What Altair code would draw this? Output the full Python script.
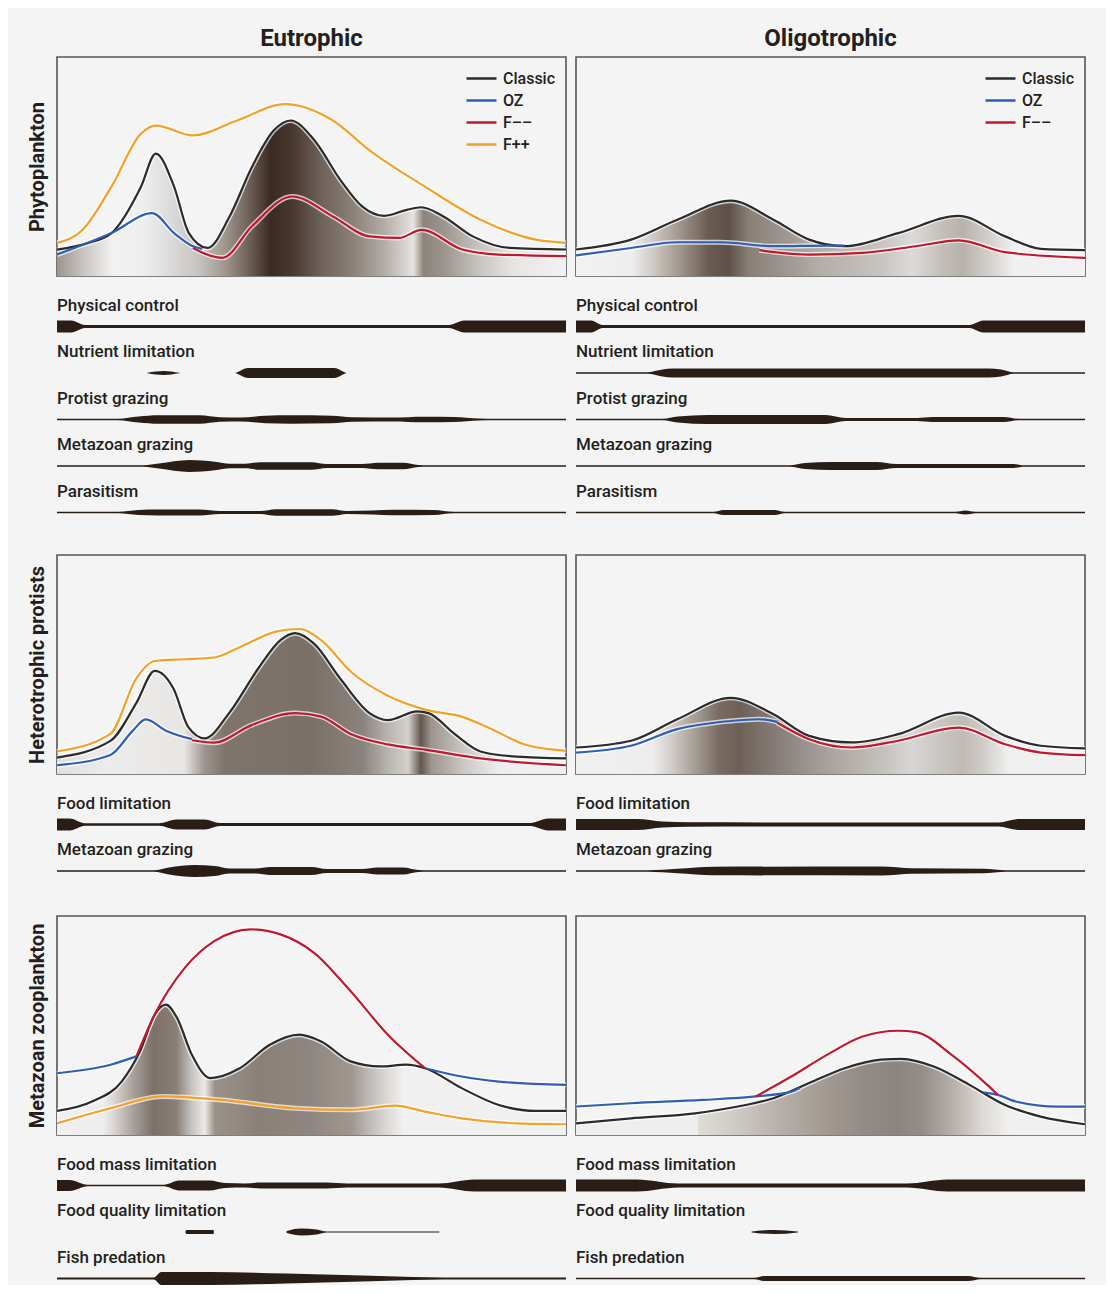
import altair as alt
import pandas as pd

FONT = "Roboto"
TEXT = "#231f20"
BAND_COLOR = "#2a1d15"
FRAME = "#555555"

COLUMNS = ["Eutrophic", "Oligotrophic"]
ROWS = ["Phytoplankton", "Heterotrophic protists", "Metazoan zooplankton"]
SERIES = ["Classic", "OZ", "F––", "F++"]
SERIES_COLORS = ["#2b2b2b", "#2f5fb3", "#c0192d", "#f3a12a"]

# ---------------- Phytoplankton ----------------
PHY_EU_CLASSIC = [(0.00, 0.12), (0.06, 0.15), (0.107, 0.196), (0.165, 0.408), (0.194, 0.559), (0.230, 0.408),
                  (0.259, 0.196), (0.296, 0.128), (0.339, 0.272), (0.383, 0.498), (0.426, 0.665), (0.459, 0.710),
                  (0.506, 0.619), (0.557, 0.438), (0.600, 0.317), (0.643, 0.275), (0.687, 0.302), (0.716, 0.314),
                  (0.759, 0.272), (0.817, 0.181), (0.890, 0.128), (1.00, 0.121)]
PHY_EU_OZ = [(0.00, 0.098), (0.107, 0.196), (0.187, 0.287), (0.230, 0.196), (0.267, 0.136), (0.285, 0.124)]
PHY_EU_FMM = [(0.267, 0.128), (0.325, 0.083), (0.383, 0.227), (0.462, 0.363), (0.542, 0.272), (0.614, 0.181),
              (0.672, 0.174), (0.716, 0.211), (0.796, 0.121), (0.868, 0.098), (1.00, 0.091)]
PHY_EU_FPP = [(0.00, 0.151), (0.05, 0.21), (0.107, 0.408), (0.165, 0.650), (0.194, 0.687), (0.267, 0.642),
              (0.354, 0.710), (0.448, 0.785), (0.542, 0.710), (0.614, 0.574), (0.723, 0.408), (0.832, 0.257),
              (0.941, 0.166), (1.00, 0.151)]
PHY_EU_SHADE = [(0.00, "#9c958f"), (0.06, "#cfcbc7"), (0.11, "#f2f2f2"), (0.17, "#eeeeee"), (0.22, "#dcdcdc"),
                (0.28, "#c6c2be"), (0.33, "#a0978f"), (0.38, "#6b5d54"), (0.42, "#3a2a22"), (0.46, "#47372e"),
                (0.52, "#6e625a"), (0.58, "#8a8078"), (0.64, "#b0aaa5"), (0.685, "#d8d4d0"), (0.70, "#e6e4e2"),
                (0.72, "#8e847c"), (0.76, "#9c948e"), (0.83, "#c8c4c0"), (0.90, "#e8e6e4"), (1.00, "#f2f2f2")]

PHY_OL_CLASSIC = [(0.00, 0.121), (0.108, 0.166), (0.199, 0.257), (0.304, 0.344), (0.388, 0.257), (0.458, 0.166),
                  (0.528, 0.136), (0.633, 0.196), (0.752, 0.275), (0.843, 0.181), (0.913, 0.124), (1.00, 0.118)]
PHY_OL_OZ = [(0.00, 0.094), (0.108, 0.128), (0.199, 0.154), (0.283, 0.154), (0.388, 0.136), (0.493, 0.139),
             (0.528, 0.139)]
PHY_OL_FMM = [(0.360, 0.118), (0.458, 0.098), (0.563, 0.106), (0.668, 0.136), (0.752, 0.163), (0.843, 0.109),
              (1.00, 0.083)]
PHY_OL_SHADE = [(0.00, "#f2f2f2"), (0.11, "#eeeeee"), (0.16, "#c8c2bc"), (0.21, "#9a9088"), (0.26, "#6a5c52"),
                (0.30, "#5e5048"), (0.34, "#8a8078"), (0.40, "#9a928c"), (0.48, "#b4aea8"), (0.60, "#c8c4c0"),
                (0.66, "#dcdad8"), (0.72, "#c4beb8"), (0.76, "#b8b2ac"), (0.82, "#d8d4d0"), (0.86, "#f0f0f0"),
                (1.00, "#f2f2f2")]

PHY_BANDS = ["Physical control", "Nutrient limitation", "Protist grazing", "Metazoan grazing", "Parasitism"]
PHY_EU_PROFILES = [
    [(0, 12), (0.028, 12), (0.055, 3), (0.77, 3), (0.80, 12), (1, 12)],
    [(0, 0), (0.175, 0), (0.178, 0.5), (0.21, 4), (0.24, 0.5), (0.243, 0), (0.35, 0), (0.353, 1), (0.375, 10),
     (0.545, 10), (0.566, 1), (0.569, 0), (1, 0)],
    [(0, 1.5), (0.12, 1.5), (0.16, 6), (0.2, 8.5), (0.28, 8.5), (0.32, 4.5), (0.36, 4), (0.41, 7.5), (0.46, 8.5),
     (0.54, 7.5), (0.58, 4.5), (0.66, 4), (0.72, 5.5), (0.78, 5), (0.83, 2), (0.86, 1.5), (1, 1.5)],
    [(0, 1.5), (0.17, 1.5), (0.2, 5), (0.26, 12), (0.31, 8.5), (0.34, 4.5), (0.37, 4.5), (0.40, 7.5), (0.5, 7.5),
     (0.53, 4), (0.6, 4), (0.63, 6.5), (0.68, 6.5), (0.71, 2), (0.73, 1.5), (1, 1.5)],
    [(0, 1.5), (0.12, 1.5), (0.16, 5), (0.2, 6), (0.28, 6), (0.32, 3), (0.40, 3), (0.43, 6.5), (0.54, 6.5),
     (0.57, 3), (0.62, 4), (0.66, 5.5), (0.74, 5), (0.78, 1.5), (1, 1.5)],
]
PHY_OL_PROFILES = [
    [(0, 12), (0.03, 12), (0.052, 3), (0.773, 3), (0.80, 12), (1, 12)],
    [(0, 1.5), (0.14, 1.5), (0.17, 7), (0.19, 9), (0.81, 9), (0.835, 7), (0.86, 1.5), (1, 1.5)],
    [(0, 1.5), (0.17, 1.5), (0.2, 6), (0.26, 9), (0.49, 9), (0.51, 6), (0.53, 3), (0.67, 3), (0.70, 5),
     (0.84, 5), (0.87, 1.5), (1, 1.5)],
    [(0, 1.5), (0.42, 1.5), (0.45, 6), (0.5, 8), (0.59, 8), (0.63, 4), (0.86, 4), (0.88, 1.5), (1, 1.5)],
    [(0, 1.5), (0.27, 1.5), (0.29, 5), (0.39, 5), (0.41, 1.5), (0.745, 1.5), (0.765, 4), (0.785, 1.5), (1, 1.5)],
]

# ---------------- Heterotrophic protists ----------------
HET_EU_CLASSIC = [(0.00, 0.075), (0.105, 0.151), (0.156, 0.325), (0.192, 0.471), (0.229, 0.389), (0.258, 0.214),
                  (0.290, 0.163), (0.338, 0.278), (0.396, 0.484), (0.439, 0.611), (0.468, 0.643), (0.505, 0.595),
                  (0.556, 0.437), (0.614, 0.278), (0.650, 0.246), (0.708, 0.286), (0.730, 0.278), (0.781, 0.183),
                  (0.832, 0.103), (0.904, 0.079), (1.00, 0.071)]
HET_EU_OZ = [(0.00, 0.040), (0.105, 0.087), (0.149, 0.198), (0.174, 0.249), (0.214, 0.198), (0.265, 0.159)]
HET_EU_FMM = [(0.265, 0.154), (0.309, 0.143), (0.381, 0.222), (0.468, 0.278), (0.519, 0.262), (0.577, 0.183),
              (0.650, 0.135), (0.723, 0.111), (0.832, 0.071), (1.00, 0.040)]
HET_EU_FPP = [(0.00, 0.103), (0.105, 0.183), (0.156, 0.437), (0.192, 0.516), (0.251, 0.524), (0.309, 0.532),
              (0.359, 0.579), (0.432, 0.651), (0.476, 0.662), (0.519, 0.611), (0.577, 0.468), (0.650, 0.357),
              (0.723, 0.294), (0.795, 0.262), (0.853, 0.206), (0.919, 0.135), (1.00, 0.106)]
HET_EU_SHADE = [(0.00, "#e2e0de"), (0.10, "#ececec"), (0.25, "#e8e6e4"), (0.29, "#9c948e"), (0.33, "#7e746c"),
                (0.50, "#7a7068"), (0.60, "#8a827c"), (0.65, "#b8b4b0"), (0.69, "#d4d0cc"), (0.715, "#62564e"),
                (0.735, "#9c948e"), (0.80, "#ccc8c4"), (0.87, "#eeeeee"), (1.00, "#f0f0f0")]

HET_OL_CLASSIC = [(0.00, 0.121), (0.108, 0.152), (0.199, 0.250), (0.304, 0.348), (0.388, 0.273), (0.458, 0.174),
                  (0.542, 0.144), (0.633, 0.182), (0.752, 0.280), (0.843, 0.174), (0.913, 0.129), (1.00, 0.117)]
HET_OL_OZ = [(0.00, 0.098), (0.108, 0.129), (0.199, 0.205), (0.304, 0.242), (0.360, 0.250), (0.395, 0.238)]
HET_OL_FMM = [(0.395, 0.235), (0.458, 0.159), (0.542, 0.121), (0.633, 0.152), (0.752, 0.212), (0.843, 0.136),
              (0.913, 0.098), (1.00, 0.086)]
HET_OL_SHADE = [(0.00, "#f0f0f0"), (0.15, "#eeeeee"), (0.18, "#d8d4d0"), (0.24, "#a09890"), (0.28, "#7a6c62"),
                (0.32, "#6e6058"), (0.36, "#7c706a"), (0.42, "#8e8682"), (0.50, "#aaa4a0"), (0.60, "#c4c0bc"),
                (0.66, "#d8d6d4"), (0.72, "#c8c4c0"), (0.76, "#c0bab4"), (0.80, "#d0ccc8"), (0.85, "#f0f0f0"),
                (1.00, "#f0f0f0")]

HET_BANDS = ["Food limitation", "Metazoan grazing"]
HET_EU_PROFILES = [
    [(0, 12), (0.025, 12), (0.055, 2.5), (0.2, 2.5), (0.235, 10), (0.29, 10), (0.32, 3), (0.93, 3), (0.965, 12),
     (1, 12)],
    [(0, 1.5), (0.19, 1.5), (0.22, 7), (0.27, 12), (0.31, 10), (0.34, 5), (0.39, 5), (0.42, 8), (0.5, 8),
     (0.53, 4), (0.6, 4), (0.63, 7), (0.68, 7), (0.71, 2), (0.73, 1.5), (1, 1.5)],
]
HET_OL_PROFILES = [
    [(0, 11), (0.12, 11), (0.17, 6), (0.22, 4.5), (0.55, 4), (0.83, 4), (0.87, 11), (1, 11)],
    [(0, 1.5), (0.14, 1.5), (0.2, 4.5), (0.27, 8.5), (0.6, 9), (0.66, 5.5), (0.8, 4.5), (0.845, 1.5), (1, 1.5)],
]

# ---------------- Metazoan zooplankton ----------------
ZOO_EU_CLASSIC = [(0.00, 0.110), (0.069, 0.153), (0.127, 0.244), (0.163, 0.382), (0.192, 0.550), (0.214, 0.595),
                  (0.236, 0.534), (0.265, 0.366), (0.301, 0.260), (0.359, 0.305), (0.418, 0.412), (0.476, 0.458),
                  (0.519, 0.427), (0.577, 0.336), (0.635, 0.313), (0.686, 0.321), (0.723, 0.305), (0.795, 0.214),
                  (0.868, 0.137), (0.940, 0.110), (1.00, 0.110)]
ZOO_EU_OZ_EARLY = [(0.00, 0.282), (0.105, 0.321), (0.156, 0.359)]
ZOO_EU_OZ_LATE = [(0.723, 0.305), (0.795, 0.267), (0.868, 0.244), (1.00, 0.229)]
ZOO_EU_FMM = [(0.156, 0.359), (0.192, 0.550), (0.251, 0.763), (0.309, 0.885), (0.381, 0.939), (0.439, 0.916),
              (0.505, 0.832), (0.577, 0.656), (0.650, 0.458), (0.723, 0.305)]
ZOO_EU_FPP = [(0.00, 0.053), (0.105, 0.122), (0.207, 0.176), (0.323, 0.160), (0.468, 0.122), (0.577, 0.115),
              (0.664, 0.134), (0.723, 0.107), (0.795, 0.076), (0.904, 0.053), (1.00, 0.049)]
ZOO_EU_SHADE = [(0.00, "#f0f0f0"), (0.09, "#eeeeee"), (0.11, "#dcd8d4"), (0.15, "#a8a09a"), (0.19, "#7c7068"),
                (0.235, "#8a8078"), (0.265, "#c8c4c0"), (0.29, "#ebe9e7"), (0.31, "#9a928a"), (0.40, "#8a8078"),
                (0.50, "#8e8680"), (0.58, "#a09890"), (0.62, "#c4c0bc"), (0.65, "#dcdad8"), (0.68, "#f0f0f0"),
                (1.00, "#f0f0f0")]

ZOO_OL_CLASSIC = [(0.00, 0.053), (0.108, 0.076), (0.234, 0.099), (0.318, 0.130), (0.388, 0.168), (0.458, 0.237),
                  (0.528, 0.305), (0.598, 0.344), (0.640, 0.348), (0.703, 0.313), (0.773, 0.229), (0.843, 0.137),
                  (0.913, 0.084), (1.00, 0.049)]
ZOO_OL_OZ_EARLY = [(0.00, 0.130), (0.108, 0.145), (0.248, 0.160), (0.353, 0.176), (0.423, 0.198), (0.44, 0.215)]
ZOO_OL_OZ_LATE = [(0.80, 0.195), (0.829, 0.183), (0.864, 0.153), (0.948, 0.130), (1.00, 0.130)]
ZOO_OL_FMM = [(0.353, 0.176), (0.423, 0.267), (0.493, 0.366), (0.563, 0.450), (0.633, 0.476), (0.668, 0.470),
              (0.738, 0.366), (0.808, 0.229), (0.829, 0.183)]
ZOO_OL_SHADE = [(0.00, "#eeeeee"), (0.238, "#eeeeee"), (0.242, "#dedad6"), (0.30, "#d2cec9"), (0.40, "#b6b0aa"),
                (0.50, "#a09890"), (0.56, "#948c86"), (0.63, "#8c8480"), (0.68, "#948e88"), (0.72, "#aaa49e"),
                (0.76, "#c4beba"), (0.80, "#dedad6"), (0.85, "#f0f0f0"), (1.00, "#f0f0f0")]

ZOO_BANDS = ["Food mass limitation", "Food quality limitation", "Fish predation"]
ZOO_EU_PROFILES = [
    [(0, 11), (0.025, 11), (0.06, 1.5), (0.21, 1.5), (0.24, 10), (0.30, 10), (0.33, 5), (0.37, 4), (0.40, 6),
     (0.53, 6), (0.57, 4), (0.75, 4), (0.82, 12), (1, 12)],
    [(0, 0), (0.252, 0), (0.254, 4), (0.307, 4), (0.309, 0), (0.45, 0), (0.452, 2), (0.48, 7), (0.51, 5),
     (0.53, 1), (0.75, 1), (0.752, 0), (1, 0)],
    [(0, 2), (0.19, 2), (0.205, 13), (0.3, 13), (0.45, 10), (0.6, 6), (0.7, 3), (0.76, 2), (1, 2)],
]
ZOO_OL_PROFILES = [
    [(0, 12), (0.12, 12), (0.2, 4), (0.65, 4), (0.73, 12), (1, 12)],
    [(0, 0), (0.344, 0), (0.346, 1), (0.39, 4), (0.435, 1), (0.437, 0), (1, 0)],
    [(0, 1.5), (0.35, 1.5), (0.37, 5), (0.77, 5), (0.795, 1.5), (1, 1.5)],
]

PANELS = [
    [
        dict(lines=[("Classic", PHY_EU_CLASSIC), ("OZ", PHY_EU_OZ), ("F––", PHY_EU_FMM), ("F++", PHY_EU_FPP)],
             classic=PHY_EU_CLASSIC, shade=PHY_EU_SHADE, bands=PHY_BANDS, profiles=PHY_EU_PROFILES),
        dict(lines=[("Classic", PHY_OL_CLASSIC), ("OZ", PHY_OL_OZ), ("F––", PHY_OL_FMM)],
             classic=PHY_OL_CLASSIC, shade=PHY_OL_SHADE, bands=PHY_BANDS, profiles=PHY_OL_PROFILES),
    ],
    [
        dict(lines=[("Classic", HET_EU_CLASSIC), ("OZ", HET_EU_OZ), ("F––", HET_EU_FMM), ("F++", HET_EU_FPP)],
             classic=HET_EU_CLASSIC, shade=HET_EU_SHADE, bands=HET_BANDS, profiles=HET_EU_PROFILES),
        dict(lines=[("Classic", HET_OL_CLASSIC), ("OZ", HET_OL_OZ), ("F––", HET_OL_FMM)],
             classic=HET_OL_CLASSIC, shade=HET_OL_SHADE, bands=HET_BANDS, profiles=HET_OL_PROFILES),
    ],
    [
        dict(lines=[("Classic", ZOO_EU_CLASSIC), ("OZ", ZOO_EU_OZ_EARLY), ("OZ", ZOO_EU_OZ_LATE),
                    ("F––", ZOO_EU_FMM), ("F++", ZOO_EU_FPP)],
             classic=ZOO_EU_CLASSIC, shade=ZOO_EU_SHADE, bands=ZOO_BANDS, profiles=ZOO_EU_PROFILES),
        dict(lines=[("Classic", ZOO_OL_CLASSIC), ("OZ", ZOO_OL_OZ_EARLY), ("OZ", ZOO_OL_OZ_LATE),
                    ("F––", ZOO_OL_FMM)],
             classic=ZOO_OL_CLASSIC, shade=ZOO_OL_SHADE, bands=ZOO_BANDS, profiles=ZOO_OL_PROFILES),
    ],
]

PW, PH = 509, 219
BAND_H = 13


def lines_df(entries):
    recs = []
    for seg, (name, pts) in enumerate(entries):
        for x, y in pts:
            recs.append({"series": name, "seg": seg, "x": x, "y": y})
    return pd.DataFrame(recs)


def main_panel(p, r, c):
    xs = alt.Scale(domain=[0, 1], nice=False, zero=False)
    ys = alt.Scale(domain=[0, 1], nice=False, zero=False)
    if c == 0:
        yaxis = alt.Axis(title=ROWS[r], labels=False, ticks=False, domain=False, grid=False,
                         titleFontSize=20, titleFontWeight="bold", titleFont=FONT, titleColor=TEXT,
                         titlePadding=10)
    else:
        yaxis = None
    X = alt.X("x:Q", scale=xs, axis=None)
    Y = alt.Y("y:Q", scale=ys, axis=yaxis)

    classic = pd.DataFrame(p["classic"], columns=["x", "y"])
    grad = alt.Gradient(gradient="linear", x1=0, x2=1, y1=0, y2=0,
                        stops=[alt.GradientStop(offset=o, color=col) for o, col in p["shade"]])
    shade = alt.Chart(classic).mark_area(interpolate="monotone", color=grad, clip=True).encode(x=X, y=Y)

    df = lines_df(p["lines"])
    names = [n for n in SERIES if n in set(df["series"])]
    cols = [SERIES_COLORS[SERIES.index(n)] for n in names]
    halo = alt.Chart(df).mark_line(interpolate="monotone", strokeWidth=5, color="white", opacity=0.7,
                                   clip=True, strokeJoin="round").encode(x=X, y=Y, detail="seg:N")
    if r == 0:
        leg = alt.Legend(title=None, orient="top-right", offset=10, symbolType="M-1.5,0H1.5", symbolSize=400,
                         symbolStrokeWidth=2.5, labelFontSize=16, labelFont=FONT, labelColor=TEXT,
                         labelFontWeight=500, labelOffset=10, rowPadding=2, padding=0)
    else:
        leg = None
    lines = alt.Chart(df).mark_line(interpolate="monotone", strokeWidth=2.2, clip=True,
                                    strokeJoin="round").encode(
        x=X, y=Y, detail="seg:N",
        color=alt.Color("series:N", scale=alt.Scale(domain=names, range=cols), sort=names, legend=leg))
    props = dict(width=PW, height=PH, view=alt.ViewBackground(stroke=FRAME, strokeWidth=1.6))
    if r == 0:
        props["title"] = alt.TitleParams(COLUMNS[c], fontSize=24, fontWeight="bold", font=FONT, color=TEXT,
                                         anchor="middle", frame="group", offset=6)
    return alt.layer(shade, halo, lines).properties(**props)


def band_chart(label, profile):
    df = pd.DataFrame(profile, columns=["x", "w"])
    return alt.Chart(df).transform_calculate(top="datum.w / 2", bot="-datum.w / 2").mark_area(
        interpolate="monotone", color=BAND_COLOR, clip=True).encode(
        x=alt.X("x:Q", scale=alt.Scale(domain=[0, 1], nice=False, zero=False), axis=None),
        y=alt.Y("top:Q", scale=alt.Scale(domain=[-BAND_H / 2, BAND_H / 2], nice=False, zero=False), axis=None),
        y2="bot:Q",
    ).properties(width=PW, height=BAND_H, view=alt.ViewBackground(strokeWidth=0),
                 title=alt.TitleParams(label, anchor="start", fontSize=17, font=FONT, fontWeight=500,
                                       color=TEXT, offset=5.5))


def column(r, c):
    p = PANELS[r][c]
    bands = alt.vconcat(*[band_chart(l, pr) for l, pr in zip(p["bands"], p["profiles"])], spacing=9.5)
    return alt.vconcat(main_panel(p, r, c), bands, spacing=19).resolve_scale(
        x="independent", y="independent", color="independent")


def row(r):
    return alt.hconcat(column(r, 0), column(r, 1), spacing=8).resolve_scale(
        x="independent", y="independent", color="independent")


top = alt.vconcat(row(0), row(1), spacing=35).resolve_scale(x="independent", y="independent",
                                                             color="independent")
chart = alt.vconcat(top, row(2), spacing=37).resolve_scale(
    x="independent", y="independent", color="independent").properties(
    padding={"left": 18, "top": 18, "right": 20, "bottom": 0},
    background="#f4f4f4",
).configure_view(strokeWidth=0)

chart.save("out.html", embed_options={"renderer": "svg", "actions": False})
